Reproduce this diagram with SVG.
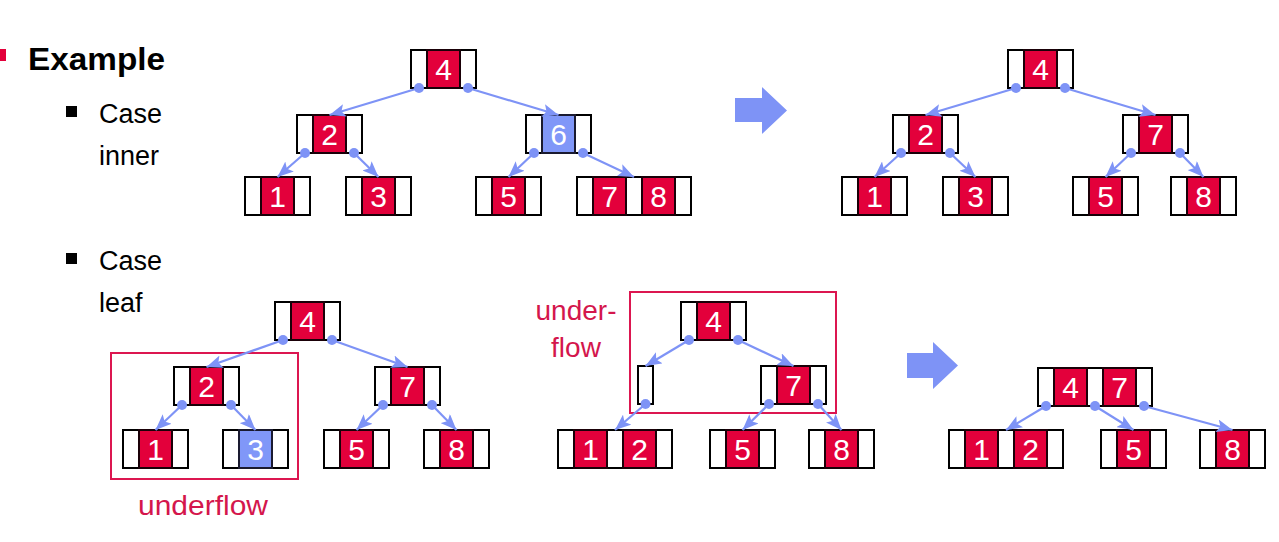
<svg xmlns="http://www.w3.org/2000/svg" width="1279" height="542" viewBox="0 0 1279 542">
<defs>
<style>
.o{fill:#fff;stroke:#000;stroke-width:2}
.k{fill:#E3003B;stroke:#1a0008;stroke-width:2}
.kb{fill:#8097F8;stroke:#1a1a30;stroke-width:2}
.d{font-family:"Liberation Sans",Arial,sans-serif;font-size:30px;fill:#fff;text-anchor:middle}
.c{stroke:#7E93F6;stroke-width:2.2;fill:none;marker-end:url(#ah)}
.dot{fill:#7E93F6}
.t{font-family:"Liberation Sans",Arial,sans-serif;font-size:27px;fill:#000}
.r{font-family:"Liberation Sans",Arial,sans-serif;font-size:28px;fill:#D4164C}
.box{fill:none;stroke:#DC1650;stroke-width:2}
.big{fill:#7E93F6}
</style>
<marker id="ah" viewBox="0 0 16 13" refX="16" refY="6.5" markerWidth="16" markerHeight="13" markerUnits="userSpaceOnUse" orient="auto">
<path d="M0,0 L16,6.5 L0,13 L3.5,6.5 z" fill="#7E93F6"/>
</marker>
</defs>
<rect width="1279" height="542" fill="#fff"/>

<g id="labels">
<rect x="0" y="49" width="6" height="12" fill="#E3003B"/>
<text x="28" y="70" font-family="'Liberation Sans',Arial,sans-serif" font-size="32" font-weight="bold" fill="#000" textLength="137" lengthAdjust="spacingAndGlyphs">Example</text>
<rect x="66" y="106" width="11" height="11" fill="#000"/>
<text class="t" x="99" y="123">Case</text>
<text class="t" x="99" y="165">inner</text>
<rect x="66" y="253" width="11" height="11" fill="#000"/>
<text class="t" x="99" y="270">Case</text>
<text class="t" x="99" y="312">leaf</text>
</g>

<g id="transform-arrows">
<polygon class="big" points="735,98 762,98 762,87 787,110.5 762,134 762,122 735,122"/>
<polygon class="big" points="907,353 933,353 933,342 958,365.5 933,389 933,378 907,378"/>
</g>

<g id="underflow-marks">
<rect class="box" x="111" y="353" width="187" height="126"/>
<text class="r" x="138" y="515" textLength="130" lengthAdjust="spacingAndGlyphs">underflow</text>
<rect class="box" x="630" y="292" width="206" height="121"/>
<text class="r" x="576" y="320" text-anchor="middle">under-</text>
<text class="r" x="576" y="357" text-anchor="middle">flow</text>
</g>

<!-- Tree 1: case inner, before -->
<g id="t1_4"><rect class="o" x="411" y="50" width="65" height="38"/><rect class="k" x="427" y="50" width="33" height="38"/><text class="d" x="443.5" y="80">4</text></g>
<g id="t1_2"><rect class="o" x="297" y="115" width="65" height="38"/><rect class="k" x="313" y="115" width="33" height="38"/><text class="d" x="329.5" y="145">2</text></g>
<g id="t1_6"><rect class="o" x="526" y="115" width="65" height="38"/><rect class="kb" x="542" y="115" width="33" height="38"/><text class="d" x="558.5" y="145">6</text></g>
<g id="t1_1"><rect class="o" x="245" y="177" width="65" height="38"/><rect class="k" x="261" y="177" width="33" height="38"/><text class="d" x="277.5" y="207">1</text></g>
<g id="t1_3"><rect class="o" x="346" y="177" width="65" height="38"/><rect class="k" x="362" y="177" width="33" height="38"/><text class="d" x="378.5" y="207">3</text></g>
<g id="t1_5"><rect class="o" x="476" y="177" width="65" height="38"/><rect class="k" x="492" y="177" width="33" height="38"/><text class="d" x="508.5" y="207">5</text></g>
<g id="t1_78"><rect class="o" x="577" y="177" width="114" height="38"/><rect class="k" x="593" y="177" width="33" height="38"/><rect class="k" x="642" y="177" width="33" height="38"/><text class="d" x="609.5" y="207">7</text><text class="d" x="658.5" y="207">8</text></g>

<!-- Tree 2: case inner, after -->
<g id="t2_4"><rect class="o" x="1008" y="50" width="65" height="38"/><rect class="k" x="1024" y="50" width="33" height="38"/><text class="d" x="1040.5" y="80">4</text></g>
<g id="t2_2"><rect class="o" x="893" y="115" width="65" height="38"/><rect class="k" x="909" y="115" width="33" height="38"/><text class="d" x="925.5" y="145">2</text></g>
<g id="t2_7"><rect class="o" x="1123" y="115" width="65" height="38"/><rect class="k" x="1139" y="115" width="33" height="38"/><text class="d" x="1155.5" y="145">7</text></g>
<g id="t2_1"><rect class="o" x="842" y="177" width="65" height="38"/><rect class="k" x="858" y="177" width="33" height="38"/><text class="d" x="874.5" y="207">1</text></g>
<g id="t2_3"><rect class="o" x="943" y="177" width="65" height="38"/><rect class="k" x="959" y="177" width="33" height="38"/><text class="d" x="975.5" y="207">3</text></g>
<g id="t2_5"><rect class="o" x="1073" y="177" width="65" height="38"/><rect class="k" x="1089" y="177" width="33" height="38"/><text class="d" x="1105.5" y="207">5</text></g>
<g id="t2_8"><rect class="o" x="1171" y="177" width="65" height="38"/><rect class="k" x="1187" y="177" width="33" height="38"/><text class="d" x="1203.5" y="207">8</text></g>

<!-- Tree 3: case leaf, before -->
<g id="t3_4"><rect class="o" x="275" y="302" width="65" height="38"/><rect class="k" x="291" y="302" width="33" height="38"/><text class="d" x="307.5" y="332">4</text></g>
<g id="t3_2"><rect class="o" x="174" y="367" width="65" height="38"/><rect class="k" x="190" y="367" width="33" height="38"/><text class="d" x="206.5" y="397">2</text></g>
<g id="t3_7"><rect class="o" x="375" y="367" width="65" height="38"/><rect class="k" x="391" y="367" width="33" height="38"/><text class="d" x="407.5" y="397">7</text></g>
<g id="t3_1"><rect class="o" x="123" y="430" width="65" height="38"/><rect class="k" x="139" y="430" width="33" height="38"/><text class="d" x="155.5" y="460">1</text></g>
<g id="t3_3"><rect class="o" x="223" y="430" width="65" height="38"/><rect class="kb" x="239" y="430" width="33" height="38"/><text class="d" x="255.5" y="460">3</text></g>
<g id="t3_5"><rect class="o" x="324" y="430" width="65" height="38"/><rect class="k" x="340" y="430" width="33" height="38"/><text class="d" x="356.5" y="460">5</text></g>
<g id="t3_8"><rect class="o" x="424" y="430" width="65" height="38"/><rect class="k" x="440" y="430" width="33" height="38"/><text class="d" x="456.5" y="460">8</text></g>

<!-- Tree 4: case leaf, underflow -->
<g id="t4_4"><rect class="o" x="681" y="302" width="65" height="38"/><rect class="k" x="697" y="302" width="33" height="38"/><text class="d" x="713.5" y="332">4</text></g>
<g id="t4_empty"><rect class="o" x="638" y="366" width="15" height="38"/></g>
<g id="t4_7"><rect class="o" x="761" y="366" width="65" height="38"/><rect class="k" x="777" y="366" width="33" height="38"/><text class="d" x="793.5" y="396">7</text></g>
<g id="t4_12"><rect class="o" x="558" y="430" width="114" height="38"/><rect class="k" x="574" y="430" width="33" height="38"/><rect class="k" x="623" y="430" width="33" height="38"/><text class="d" x="590.5" y="460">1</text><text class="d" x="639.5" y="460">2</text></g>
<g id="t4_5"><rect class="o" x="710" y="430" width="65" height="38"/><rect class="k" x="726" y="430" width="33" height="38"/><text class="d" x="742.5" y="460">5</text></g>
<g id="t4_8"><rect class="o" x="809" y="430" width="65" height="38"/><rect class="k" x="825" y="430" width="33" height="38"/><text class="d" x="841.5" y="460">8</text></g>

<!-- Tree 5: case leaf, after merge -->
<g id="t5_47"><rect class="o" x="1038" y="368" width="114" height="38"/><rect class="k" x="1054" y="368" width="33" height="38"/><rect class="k" x="1103" y="368" width="33" height="38"/><text class="d" x="1070.5" y="398">4</text><text class="d" x="1119.5" y="398">7</text></g>
<g id="t5_12"><rect class="o" x="949" y="430" width="114" height="38"/><rect class="k" x="965" y="430" width="33" height="38"/><rect class="k" x="1014" y="430" width="33" height="38"/><text class="d" x="981.5" y="460">1</text><text class="d" x="1030.5" y="460">2</text></g>
<g id="t5_5"><rect class="o" x="1101" y="430" width="65" height="38"/><rect class="k" x="1117" y="430" width="33" height="38"/><text class="d" x="1133.5" y="460">5</text></g>
<g id="t5_8"><rect class="o" x="1200" y="430" width="65" height="38"/><rect class="k" x="1216" y="430" width="33" height="38"/><text class="d" x="1232.5" y="460">8</text></g>

<g id="connectors">
<line class="c" x1="419" y1="88" x2="329.5" y2="115"/>
<line class="c" x1="468" y1="88" x2="558.5" y2="115"/>
<line class="c" x1="305" y1="153" x2="277.5" y2="177"/>
<line class="c" x1="354" y1="153" x2="378.5" y2="177"/>
<line class="c" x1="534" y1="153" x2="508.5" y2="177"/>
<line class="c" x1="583" y1="153" x2="634" y2="177"/>

<line class="c" x1="1016" y1="88" x2="925.5" y2="115"/>
<line class="c" x1="1065" y1="88" x2="1155.5" y2="115"/>
<line class="c" x1="901" y1="153" x2="874.5" y2="177"/>
<line class="c" x1="950" y1="153" x2="975.5" y2="177"/>
<line class="c" x1="1131" y1="153" x2="1105.5" y2="177"/>
<line class="c" x1="1180" y1="153" x2="1203.5" y2="177"/>

<line class="c" x1="283" y1="340" x2="206.5" y2="367"/>
<line class="c" x1="332" y1="340" x2="407.5" y2="367"/>
<line class="c" x1="182" y1="405" x2="155.5" y2="430"/>
<line class="c" x1="231" y1="405" x2="255.5" y2="430"/>
<line class="c" x1="383" y1="405" x2="356.5" y2="430"/>
<line class="c" x1="432" y1="405" x2="456.5" y2="430"/>

<line class="c" x1="689" y1="340" x2="645.5" y2="366"/>
<line class="c" x1="738" y1="340" x2="793.5" y2="366"/>
<line class="c" x1="645.5" y1="404" x2="615" y2="430"/>
<line class="c" x1="769" y1="404" x2="742.5" y2="430"/>
<line class="c" x1="818" y1="404" x2="841.5" y2="430"/>

<line class="c" x1="1046" y1="406" x2="1006" y2="430"/>
<line class="c" x1="1095" y1="406" x2="1133.5" y2="430"/>
<line class="c" x1="1144" y1="406" x2="1232.5" y2="430"/>

<circle class="dot" cx="419" cy="88" r="5"/><circle class="dot" cx="468" cy="88" r="5"/>
<circle class="dot" cx="305" cy="153" r="5"/><circle class="dot" cx="354" cy="153" r="5"/>
<circle class="dot" cx="534" cy="153" r="5"/><circle class="dot" cx="583" cy="153" r="5"/>
<circle class="dot" cx="1016" cy="88" r="5"/><circle class="dot" cx="1065" cy="88" r="5"/>
<circle class="dot" cx="901" cy="153" r="5"/><circle class="dot" cx="950" cy="153" r="5"/>
<circle class="dot" cx="1131" cy="153" r="5"/><circle class="dot" cx="1180" cy="153" r="5"/>
<circle class="dot" cx="283" cy="340" r="5"/><circle class="dot" cx="332" cy="340" r="5"/>
<circle class="dot" cx="182" cy="405" r="5"/><circle class="dot" cx="231" cy="405" r="5"/>
<circle class="dot" cx="383" cy="405" r="5"/><circle class="dot" cx="432" cy="405" r="5"/>
<circle class="dot" cx="689" cy="340" r="5"/><circle class="dot" cx="738" cy="340" r="5"/>
<circle class="dot" cx="645.5" cy="404" r="5"/>
<circle class="dot" cx="769" cy="404" r="5"/><circle class="dot" cx="818" cy="404" r="5"/>
<circle class="dot" cx="1046" cy="406" r="5"/><circle class="dot" cx="1095" cy="406" r="5"/><circle class="dot" cx="1144" cy="406" r="5"/>
</g>
</svg>
